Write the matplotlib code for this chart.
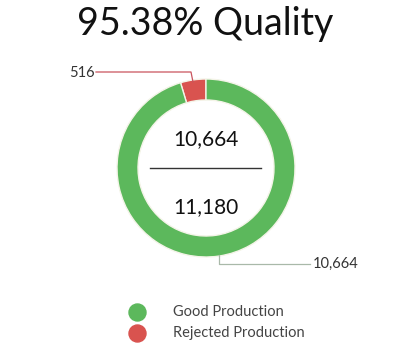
import numpy as np
import matplotlib.pyplot as plt

labels = ['Good Production', 'Rejected Production']
values = [10664, 516]
colors = ['#5cb85c', '#d9534f']

total = sum(values)
quality = values[0] / total * 100

fig = plt.figure(figsize=(3.98, 3.59), dpi=100)
ax = fig.add_axes([0, 0, 1, 1])

cx, cy, r = 206, 359 - 168, 89
wedges, _ = ax.pie(values[::-1], colors=colors[::-1], startangle=90, counterclock=True,
                   center=(cx, cy), radius=r, frame=True,
                   wedgeprops=dict(width=21, edgecolor='#f4f4e8', linewidth=1))
ax.set_xlim(0, 398)
ax.set_ylim(0, 359)
ax.set_aspect('equal')
ax.axis('off')

font = 'Lato'
ax.text(205, 359 - 24, '%.2f%% Quality' % quality, ha='center', va='center',
        fontsize=27, family=font, color='#111111')

# center numbers
ax.text(cx, 359 - 139, '{:,}'.format(values[0]), ha='center', va='center',
        fontsize=15, family=font, color='#111111')
ax.plot([cx - 56, cx + 55], [359 - 168, 359 - 168], color='#333333', lw=1)
ax.text(cx, 359 - 207, '{:,}'.format(total), ha='center', va='center',
        fontsize=15, family=font, color='#111111')

# leader lines
ax.plot([96, 191, 193], [359 - 72, 359 - 72, 359 - 82], color='#c9535d', lw=0.9)
ax.text(69, 359 - 73, '{:,}'.format(values[1]), ha='left', va='center',
        fontsize=10.5, family=font, color='#333333')
ax.plot([219, 219, 310], [359 - 255, 359 - 264, 359 - 264], color='#a9b9a9', lw=0.9)
ax.text(313, 359 - 264, '{:,}'.format(values[0]), ha='left', va='center',
        fontsize=10.5, family=font, color='#333333')

# legend
for i, lab in enumerate(labels):
    y = 359 - (312 + 21 * i)
    ax.scatter([137], [y], s=150, color=colors[i], zorder=3)
    ax.text(173, y, lab, ha='left', va='center', fontsize=10.5, family=font, color='#444444')

fig.savefig('out.png', dpi=100)
